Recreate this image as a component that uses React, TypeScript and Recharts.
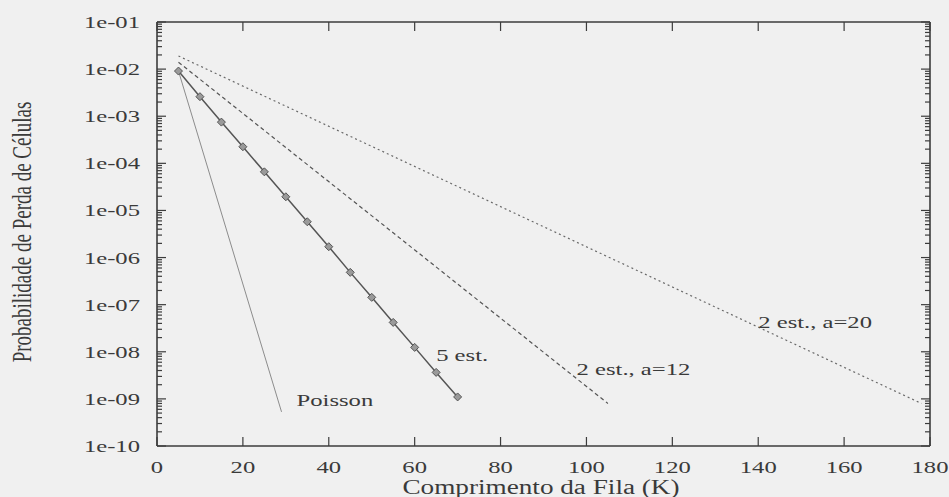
import React from 'react';
import { LineChart, Line, XAxis, YAxis, ReferenceDot } from 'recharts';

// Queue length K and cell loss probability for each traffic model
const kFiveStates = [5, 10, 15, 20, 25, 30, 35, 40, 45, 50, 55, 60, 65, 70];
const lossFiveStates = [
  9.1e-3, 2.6e-3, 7.5e-4, 2.25e-4, 6.6e-5, 1.95e-5, 5.75e-6,
  1.7e-6, 4.85e-7, 1.43e-7, 4.2e-8, 1.24e-8, 3.65e-9, 1.1e-9,
];
const kPoisson = [5, 29];
const lossPoisson = [9.1e-3, 5.3e-10];
const kTwoStatesA12 = [5, 105];
const lossTwoStatesA12 = [1.4e-2, 8.0e-10];
const kTwoStatesA20 = [5, 178];
const lossTwoStatesA20 = [1.9e-2, 8.0e-10];

// Axis ticks
const xTicks = [0, 20, 40, 60, 80, 100, 120, 140, 160, 180];
const yMajor = [1e-10, 1e-9, 1e-8, 1e-7, 1e-6, 1e-5, 1e-4, 1e-3, 1e-2, 1e-1];
const yLabels = ['1e-10', '1e-09', '1e-08', '1e-07', '1e-06', '1e-05', '1e-04', '1e-03', '1e-02', '1e-01'];

// Curve annotations (anchored in data space: K, probability)
const noteTexts = ['Poisson', '5 est.', '2 est., a=12', '2 est., a=20'];
const noteK = [32.5, 65, 97.7, 140];
const noteP = [9.5e-10, 8.5e-9, 4.4e-9, 4.3e-8];

const toRows = (ks: number[], ps: number[]) => ks.map((k, i) => ({ k, p: ps[i] }));

const yTicks: number[] = [];
yMajor.forEach((d, i) => {
  yTicks.push(d);
  if (i < yMajor.length - 1) {
    for (let m = 2; m <= 9; m++) yTicks.push(m * d);
  }
});

const FONT = '"Liberation Serif", "Times New Roman", serif';
const INK = '#3a3a3a';
const FRAME = '#3c3c3c';
const STRETCH = 1.45;

const majorIndex = (v: number) =>
  yMajor.findIndex((m) => Math.abs(Math.log10(m) - Math.log10(v)) < 1e-6);

const LeftTick = (props: any) => {
  const { x, y, payload } = props;
  const idx = majorIndex(payload.value);
  const major = idx >= 0;
  return (
    <g>
      <line x1={x} x2={x + (major ? 9 : 5)} y1={y} y2={y} stroke={FRAME} strokeWidth={1.2} />
      {major && (
        <text
          transform={`translate(${x - 17},${y}) scale(${STRETCH},1)`}
          textAnchor="end"
          dy="0.35em"
          fontFamily={FONT}
          fontSize={17}
          fill={INK}
        >
          {yLabels[idx]}
        </text>
      )}
    </g>
  );
};

const RightTick = (props: any) => {
  const { x, y, payload } = props;
  const major = majorIndex(payload.value) >= 0;
  return <line x1={x} x2={x - (major ? 9 : 5)} y1={y} y2={y} stroke={FRAME} strokeWidth={1.2} />;
};

const BottomTick = (props: any) => {
  const { x, y, payload } = props;
  return (
    <g>
      <line x1={x} x2={x} y1={y} y2={y - 9} stroke={FRAME} strokeWidth={1.2} />
      <text
        transform={`translate(${x},${y + 21}) scale(${STRETCH},1)`}
        textAnchor="middle"
        dy="0.35em"
        fontFamily={FONT}
        fontSize={17}
        fill={INK}
      >
        {payload.value}
      </text>
    </g>
  );
};

const TopTick = (props: any) => {
  const { x, y } = props;
  return <line x1={x} x2={x} y1={y} y2={y + 9} stroke={FRAME} strokeWidth={1.2} />;
};

const Diamond = (props: any) => {
  const { cx, cy } = props;
  const s = 4;
  return (
    <polygon
      points={`${cx},${cy - s} ${cx + s},${cy} ${cx},${cy + s} ${cx - s},${cy}`}
      fill="#9a9a9a"
      stroke="#555"
      strokeWidth={1}
    />
  );
};

const XTitle = () => (
  <text
    transform={`translate(541,487) scale(1.36,1)`}
    textAnchor="middle"
    dy="0.33em"
    fontFamily={FONT}
    fontSize={20}
    fill={INK}
  >
    Comprimento da Fila (K)
  </text>
);

const YTitle = () => (
  <text
    transform={`translate(22,232) scale(1.42,1) rotate(-90)`}
    textAnchor="middle"
    dy="0.35em"
    fontFamily={FONT}
    fontSize={19}
    fill={INK}
  >
    Probabilidade de Perda de Células
  </text>
);

const noteContent = (text: string) => (props: any) => {
  const vb = props.viewBox || {};
  return (
    <text
      transform={`translate(${vb.x},${vb.y}) scale(${STRETCH},1)`}
      textAnchor="start"
      dy="0.35em"
      fontFamily={FONT}
      fontSize={17}
      fill={INK}
    >
      {text}
    </text>
  );
};

export default function App() {
  return (
    <div style={{ position: 'absolute', left: 0, top: 0, width: 949, height: 497, background: '#f0f0f0' }}>
      <LineChart width={949} height={497} margin={{ top: 0, right: 0, bottom: 0, left: 0 }}>
        <XAxis
          xAxisId="bottom"
          orientation="bottom"
          dataKey="k"
          type="number"
          domain={[0, 180]}
          ticks={xTicks}
          interval={0}
          allowDataOverflow
          height={51}
          tickSize={0}
          tickMargin={0}
          tickLine={false}
          axisLine={{ stroke: FRAME, strokeWidth: 1.6 }}
          tick={BottomTick}
          label={{ content: XTitle }}
        />
        <XAxis
          xAxisId="top"
          orientation="top"
          dataKey="k"
          type="number"
          domain={[0, 180]}
          ticks={xTicks}
          interval={0}
          allowDataOverflow
          height={22}
          tickSize={0}
          tickMargin={0}
          tickLine={false}
          axisLine={{ stroke: FRAME, strokeWidth: 1.6 }}
          tick={TopTick}
        />
        <YAxis
          yAxisId="left"
          orientation="left"
          type="number"
          scale="log"
          domain={[1e-10, 1e-1]}
          ticks={yTicks}
          interval={0}
          allowDataOverflow
          width={157}
          tickSize={0}
          tickMargin={0}
          tickLine={false}
          axisLine={{ stroke: FRAME, strokeWidth: 1.6 }}
          tick={LeftTick}
          label={{ content: YTitle }}
        />
        <YAxis
          yAxisId="right"
          orientation="right"
          type="number"
          scale="log"
          domain={[1e-10, 1e-1]}
          ticks={yTicks}
          interval={0}
          allowDataOverflow
          width={19}
          tickSize={0}
          tickMargin={0}
          tickLine={false}
          axisLine={{ stroke: FRAME, strokeWidth: 1.6 }}
          tick={RightTick}
        />
        <Line
          xAxisId="bottom"
          yAxisId="left"
          data={toRows(kPoisson, lossPoisson)}
          dataKey="p"
          type="linear"
          stroke="#8c8c8c"
          strokeWidth={1}
          dot={false}
          isAnimationActive={false}
        />
        <Line
          xAxisId="bottom"
          yAxisId="left"
          data={toRows(kTwoStatesA20, lossTwoStatesA20)}
          dataKey="p"
          type="linear"
          stroke="#6a6a6a"
          strokeWidth={1.2}
          strokeDasharray="2 3"
          dot={false}
          isAnimationActive={false}
        />
        <Line
          xAxisId="bottom"
          yAxisId="left"
          data={toRows(kTwoStatesA12, lossTwoStatesA12)}
          dataKey="p"
          type="linear"
          stroke="#555"
          strokeWidth={1.2}
          strokeDasharray="4 3"
          dot={false}
          isAnimationActive={false}
        />
        <Line
          xAxisId="bottom"
          yAxisId="left"
          data={toRows(kFiveStates, lossFiveStates)}
          dataKey="p"
          type="linear"
          stroke="#555"
          strokeWidth={1.5}
          dot={<Diamond />}
          isAnimationActive={false}
        />
        {noteTexts.map((t, i) => (
          <ReferenceDot
            key={t}
            xAxisId="bottom"
            yAxisId="left"
            x={noteK[i]}
            y={noteP[i]}
            r={0}
            fill="none"
            stroke="none"
            label={{ content: noteContent(t) }}
          />
        ))}
      </LineChart>
    </div>
  );
}
